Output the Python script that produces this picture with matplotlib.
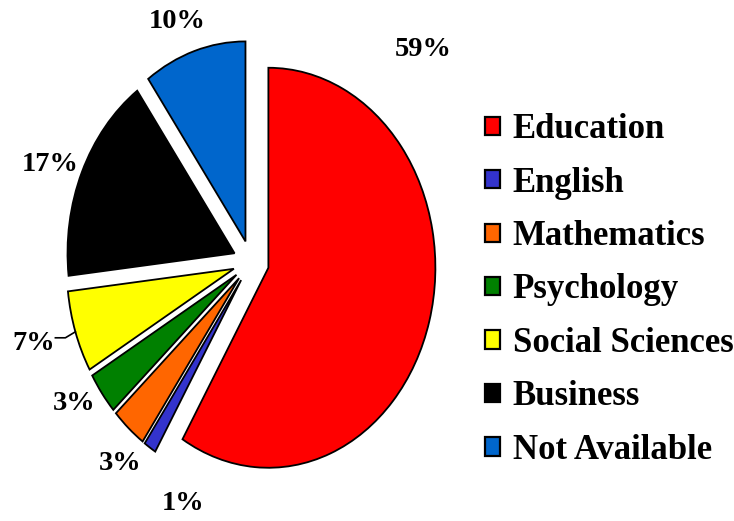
import numpy as np
import matplotlib
matplotlib.use("Agg")
import matplotlib.pyplot as plt
from matplotlib.patches import Patch

categories = ["Education", "English", "Mathematics", "Psychology",
              "Social Sciences", "Business", "Not Available"]
values = [58.6, 1.2, 3.4, 3.4, 6.6, 16.9, 9.9]
pct_labels = ["59%", "1%", "3%", "3%", "7%", "17%", "10%"]
colors = ["#FF0000", "#3333CC", "#FF6600", "#008000", "#FFFF00", "#000000", "#0066CC"]

W, H = 734, 521
fig = plt.figure(figsize=(W / 100, H / 100), dpi=100)
ax = fig.add_axes([0, 0, 1, 1])

# pie geometry in pixels (elliptical pie)
cx, cy = 251, 262          # centre, from top-left
rx, ry = 167, 200          # horizontal / vertical radius

wedges, _ = ax.pie(values, colors=colors, startangle=90, counterclock=False,
                   explode=[0.108] * len(values), radius=1,
                   wedgeprops=dict(edgecolor="black", linewidth=1.3))
ax.set_aspect("auto")
ax.set_xlim(-cx / rx, (W - cx) / rx)
ax.set_ylim(-(H - cy) / ry, cy / ry)
ax.axis("off")

font = dict(family="Liberation Serif", weight="bold", color="black")

# label centres in pixels (from top-left)
label_px = [(423, 50), (183, 504), (120, 464), (74, 404), (34, 343), (50, 164), (177, 21)]
for txt, (px, py) in zip(pct_labels, label_px):
    fig.text(px / W, 1 - py / H, txt, ha="center", va="center", fontsize=20.5, **font)

# leader line for Social Sciences label
w = wedges[4]
mid = np.deg2rad((w.theta1 + w.theta2) / 2)
ax_pt = np.array([w.center[0] + np.cos(mid), w.center[1] + np.sin(mid)])
A = ax.transData.transform(ax_pt)
B = A + np.array([-10, -6])
C = B + np.array([-10, 0])
pts = fig.transFigure.inverted().transform(np.vstack([A, B, C]))
fig.add_artist(plt.Line2D(pts[:, 0], pts[:, 1], color="black", lw=1.2,
                          transform=fig.transFigure))

handles = [Patch(facecolor=c, edgecolor="black", linewidth=1.6) for c in colors]
leg = fig.legend(handles, categories, loc="center left",
                 bbox_to_anchor=(485 / W, 1 - 290 / H),
                 frameon=False, borderpad=0, borderaxespad=0,
                 handlelength=0.43, handleheight=0.43, handletextpad=0.37,
                 labelspacing=0.59,
                 prop=dict(family="Liberation Serif", weight="bold", size=25))

fig.savefig("out.png", dpi=100)
